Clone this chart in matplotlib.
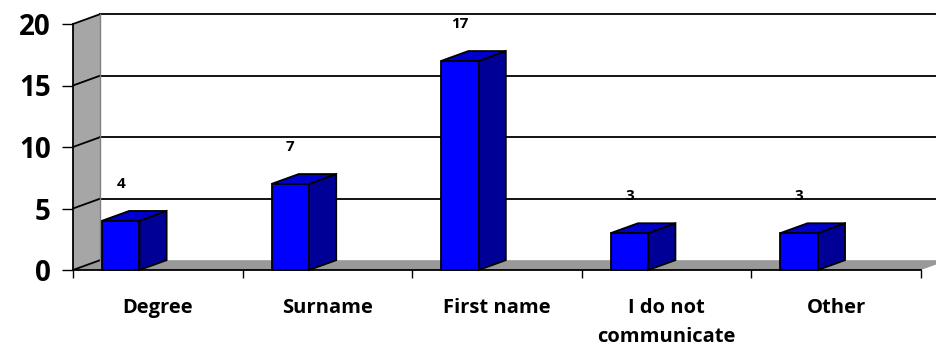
import matplotlib.pyplot as plt
from matplotlib.patches import Polygon, Rectangle

# data
categorias = ['Degree', 'Surname', 'First name', 'I do not\ncommunicate', 'Other']
valores = [4, 7, 17, 3, 3]
y_ticks = [0, 5, 10, 15, 20]

# aparencia do "3D" (profundidade em unidades de dados)
DX = 0.16   # deslocamento horizontal da parede de fundo
DY = 0.8    # deslocamento vertical da parede de fundo
bar_x0 = 0.171
bar_w = 0.221
cor_frente = '#0000ff'
cor_topo = '#0000cc'
cor_lado = '#000096'
cinza_parede = '#a6a6a6'
cinza_chao = '#999999'
fonte = ['Open Sans', 'DejaVu Sans']

fig = plt.figure(figsize=(9.36, 3.47), dpi=100)
ax = fig.add_axes([73 / 936, 77 / 347, 848 / 936, 246 / 347])
n = len(categorias)
ymax = y_ticks[-1]
ax.set_xlim(0, n)
ax.set_ylim(0, ymax)

# parede lateral esquerda
ax.add_patch(Polygon([(0, 0), (0, ymax), (DX, ymax + DY), (DX, DY)],
                     closed=True, facecolor=cinza_parede, edgecolor='none',
                     clip_on=False, zorder=1))
# chao
ax.add_patch(Polygon([(0, 0), (n, 0), (n + DX, DY), (DX, DY)],
                     closed=True, facecolor=cinza_chao, edgecolor='none',
                     clip_on=False, zorder=1))

# linhas de grade no fundo e na parede lateral
for v in y_ticks:
    if v > 0:
        ax.plot([DX, n + 2 * DX], [v + DY, v + DY], color='black', lw=1.3,
                clip_on=False, zorder=2)
    ax.plot([0, DX], [v, v + DY], color='black', lw=1.3,
            clip_on=False, zorder=2)
ax.plot([DX, DX], [DY, ymax + DY], color='#808080', lw=1.0,
        clip_on=False, zorder=2)

# barras
for i, v in enumerate(valores):
    x0 = i + bar_x0
    x1 = x0 + bar_w
    ax.add_patch(Polygon([(x1, 0), (x1 + DX, DY), (x1 + DX, v + DY), (x1, v)],
                         closed=True, facecolor=cor_lado, edgecolor='black',
                         lw=1.3, clip_on=False, zorder=3))
    ax.add_patch(Polygon([(x0, v), (x1, v), (x1 + DX, v + DY), (x0 + DX, v + DY)],
                         closed=True, facecolor=cor_topo, edgecolor='black',
                         lw=1.3, clip_on=False, zorder=3))
    ax.add_patch(Rectangle((x0, 0), bar_w, v, facecolor=cor_frente,
                           edgecolor='black', lw=1.3, clip_on=False, zorder=4))
    ax.text(x0 + bar_w / 2, v + 3, str(v), ha='center', va='center',
            fontsize=11, fontweight='bold', family=fonte, zorder=5)

# eixos
for s in ['top', 'right']:
    ax.spines[s].set_visible(False)
ax.spines['left'].set_linewidth(1.3)
ax.spines['bottom'].set_linewidth(1.3)
ax.spines['left'].set_zorder(2.5)
ax.spines['bottom'].set_zorder(5)
ax.patch.set_visible(False)

ax.set_yticks(y_ticks)
ax.set_yticklabels([str(t) for t in y_ticks], fontsize=20, fontweight='bold',
                   family=fonte)
ax.tick_params(axis='y', direction='out', length=8, width=1, pad=8)

ax.set_xticks(range(n + 1))
ax.set_xticklabels([])
ax.tick_params(axis='x', which='major', direction='out', length=6, width=1)
ax.set_xticks([i + 0.5 for i in range(n)], minor=True)
ax.set_xticklabels(categorias, minor=True, fontsize=14.5, fontweight='bold',
                   family=fonte, linespacing=1.6)
ax.tick_params(axis='x', which='minor', length=0, pad=20)

fig.savefig('out.png', dpi=100)
